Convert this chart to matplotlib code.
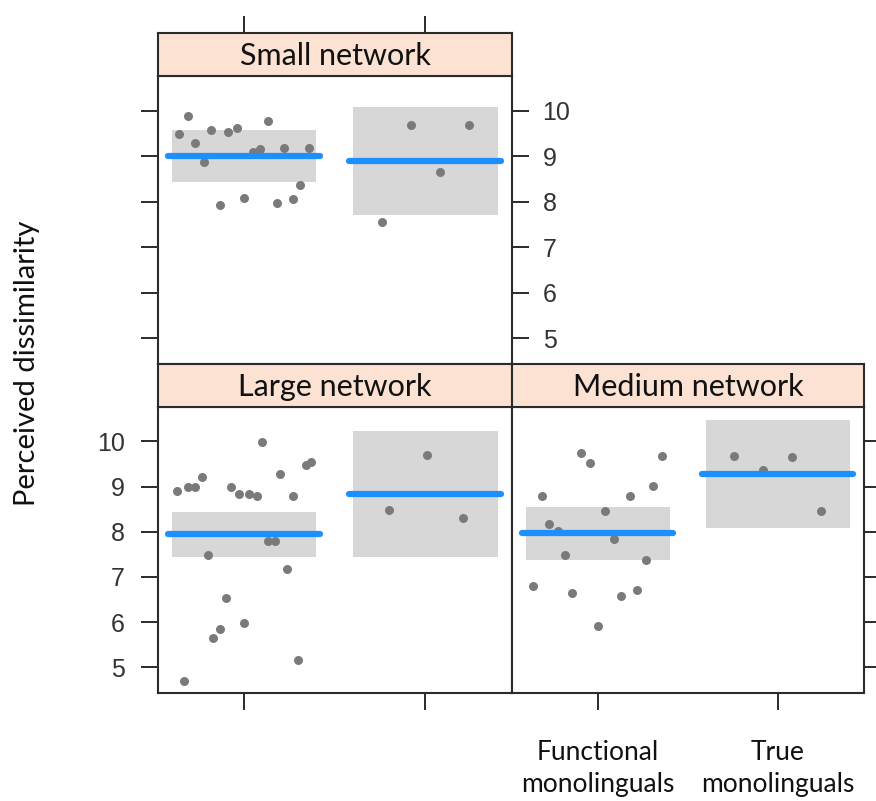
import numpy as np
import matplotlib
matplotlib.use("Agg")
from matplotlib import pyplot as plt

# group labels and the two speaker types on the x axis
groups = ["Functional\nmonolinguals", "True\nmonolinguals"]
ticks = [1, 2]

# per-panel raw ratings (x = jittered position, y = rating)
small_func_x = [-0.31, -0.36, -0.27, -0.22, -0.18, -0.09, -0.04, 0.13, 0.05, 0.09,
                0.22, 0.36, 0.31, 0.27, 0.18, 0.00, -0.13]
small_func_y = [9.87, 9.48, 9.29, 8.87, 9.58, 9.54, 9.62, 9.78, 9.08, 9.16,
                9.18, 9.18, 8.37, 8.05, 7.96, 8.08, 7.93]
small_true_x = [-0.08, 0.24, 0.08, -0.24]
small_true_y = [9.68, 9.68, 8.65, 7.55]

large_func_x = [-0.37, -0.31, -0.27, -0.23, -0.07, -0.03, 0.03, 0.07, 0.10, 0.20,
                0.27, 0.34, 0.37, -0.20, 0.13, 0.17, 0.24, -0.10, -0.13, -0.17,
                0.00, 0.30, -0.33]
large_func_y = [8.90, 8.99, 8.99, 9.22, 8.98, 8.83, 8.83, 8.78, 9.99, 9.27,
                8.78, 9.48, 9.55, 7.49, 7.80, 7.80, 7.18, 6.54, 5.85, 5.65,
                5.97, 5.16, 4.70]
large_true_x = [0.01, -0.20, 0.21]
large_true_y = [9.70, 8.48, 8.30]

medium_func_x = [-0.09, -0.04, 0.36, 0.31, -0.31, 0.18, 0.04, -0.27, -0.22, 0.09,
                 -0.18, 0.27, -0.36, -0.14, 0.13, 0.22, 0.00]
medium_func_y = [9.74, 9.51, 9.68, 9.01, 8.78, 8.78, 8.45, 8.18, 8.02, 7.84,
                 7.49, 7.38, 6.79, 6.64, 6.58, 6.72, 5.91]
medium_true_x = [-0.24, -0.08, 0.08, 0.24]
medium_true_y = [9.68, 9.37, 9.65, 8.45]

# model fit and confidence band (functional, true)
small_fit = [9.00, 8.89]
small_lo = [8.43, 7.70]
small_hi = [9.58, 10.08]
large_fit = [7.95, 8.83]
large_lo = [7.44, 7.45]
large_hi = [8.44, 10.23]
medium_fit = [7.97, 9.28]
medium_lo = [7.38, 8.09]
medium_hi = [8.54, 10.47]

W, H = 876, 801
fig = plt.figure(figsize=(W / 100, H / 100), dpi=100)

label_font = ["Lato", "DejaVu Sans"]
num_font = ["Liberation Sans", "DejaVu Sans"]
frame = "#2b2b2b"
strip_col = "#fbe2d2"


def px_axes(x0, y0, x1, y1):
    # pixel box (top-left origin) -> figure axes
    return fig.add_axes([x0 / W, 1 - y1 / H, (x1 - x0) / W, (y1 - y0) / H])


def panel(x0, x1, y_strip, y0, y1, title, fx, fy, tx, ty, fit, lo, hi):
    ax = px_axes(x0, y0, x1, y1)
    ax.bar(ticks, np.array(hi) - np.array(lo), bottom=lo, width=0.8,
           color="#d7d7d7", zorder=1)
    ax.scatter(np.array(fx) + 1, fy, s=42, color="#7a7a7a", zorder=2, linewidths=0)
    ax.scatter(np.array(tx) + 2, ty, s=42, color="#7a7a7a", zorder=2, linewidths=0)
    ax.hlines(fit, np.array(ticks) - 0.42, np.array(ticks) + 0.42,
              color="#1e8fff", lw=4.5, zorder=3, capstyle="round")
    ax.set_xlim(0.525, 2.48)
    ax.set_ylim(4.43, 10.76)
    ax.set_yticks([5, 6, 7, 8, 9, 10])
    ax.set_xticks(ticks)
    ax.tick_params(length=12, width=1.4, color=frame, labelsize=18,
                   labelcolor="#333333", direction="out")
    for s in ax.spines.values():
        s.set_color(frame)
        s.set_linewidth(1.5)

    st = px_axes(x0, y_strip, x1, y0)
    st.set_facecolor(strip_col)
    st.set_xlim(0.525, 2.48)
    st.set_yticks([])
    st.set_xticks([])
    for s in st.spines.values():
        s.set_color(frame)
        s.set_linewidth(1.5)
    st.text(0.5, 0.47, title, transform=st.transAxes, ha="center", va="center",
            fontsize=22, family=label_font, color="#111111")
    return ax, st


# top panel: small network
ax_s, st_s = panel(158, 512, 33, 76, 364, "Small network",
                   small_func_x, small_func_y, small_true_x, small_true_y,
                   small_fit, small_lo, small_hi)
ax_s.tick_params(axis="y", left=True, right=True, labelleft=False, labelright=True, pad=10)
ax_s.tick_params(axis="x", bottom=False, labelbottom=False)
for lab in ax_s.get_yticklabels():
    lab.set_family(num_font)
st_s.set_xticks(ticks)
st_s.tick_params(axis="x", top=True, bottom=False, labeltop=False, labelbottom=False,
                 length=12, width=1.4, color=frame)

# bottom left: large network
ax_l, st_l = panel(158, 512, 364, 407, 693, "Large network",
                   large_func_x, large_func_y, large_true_x, large_true_y,
                   large_fit, large_lo, large_hi)
ax_l.tick_params(axis="y", left=True, right=False, labelleft=True, pad=12)
ax_l.tick_params(axis="x", bottom=True, labelbottom=False)
for lab in ax_l.get_yticklabels():
    lab.set_family(num_font)

# bottom right: medium network
ax_m, st_m = panel(512, 864, 364, 407, 693, "Medium network",
                   medium_func_x, medium_func_y, medium_true_x, medium_true_y,
                   medium_fit, medium_lo, medium_hi)
ax_m.tick_params(axis="y", left=False, right=True, labelleft=False, labelright=False)
ax_m.tick_params(axis="x", bottom=True, labelbottom=True, pad=22)
ax_m.set_xticklabels(groups, family=label_font, fontsize=19, color="#111111",
                     linespacing=1.35)

fig.text(27 / W, 1 - 363 / H, "Perceived dissimilarity", rotation=90,
         ha="center", va="center", fontsize=21, family=label_font, color="#111111")

fig.savefig("out.png", dpi=100)
